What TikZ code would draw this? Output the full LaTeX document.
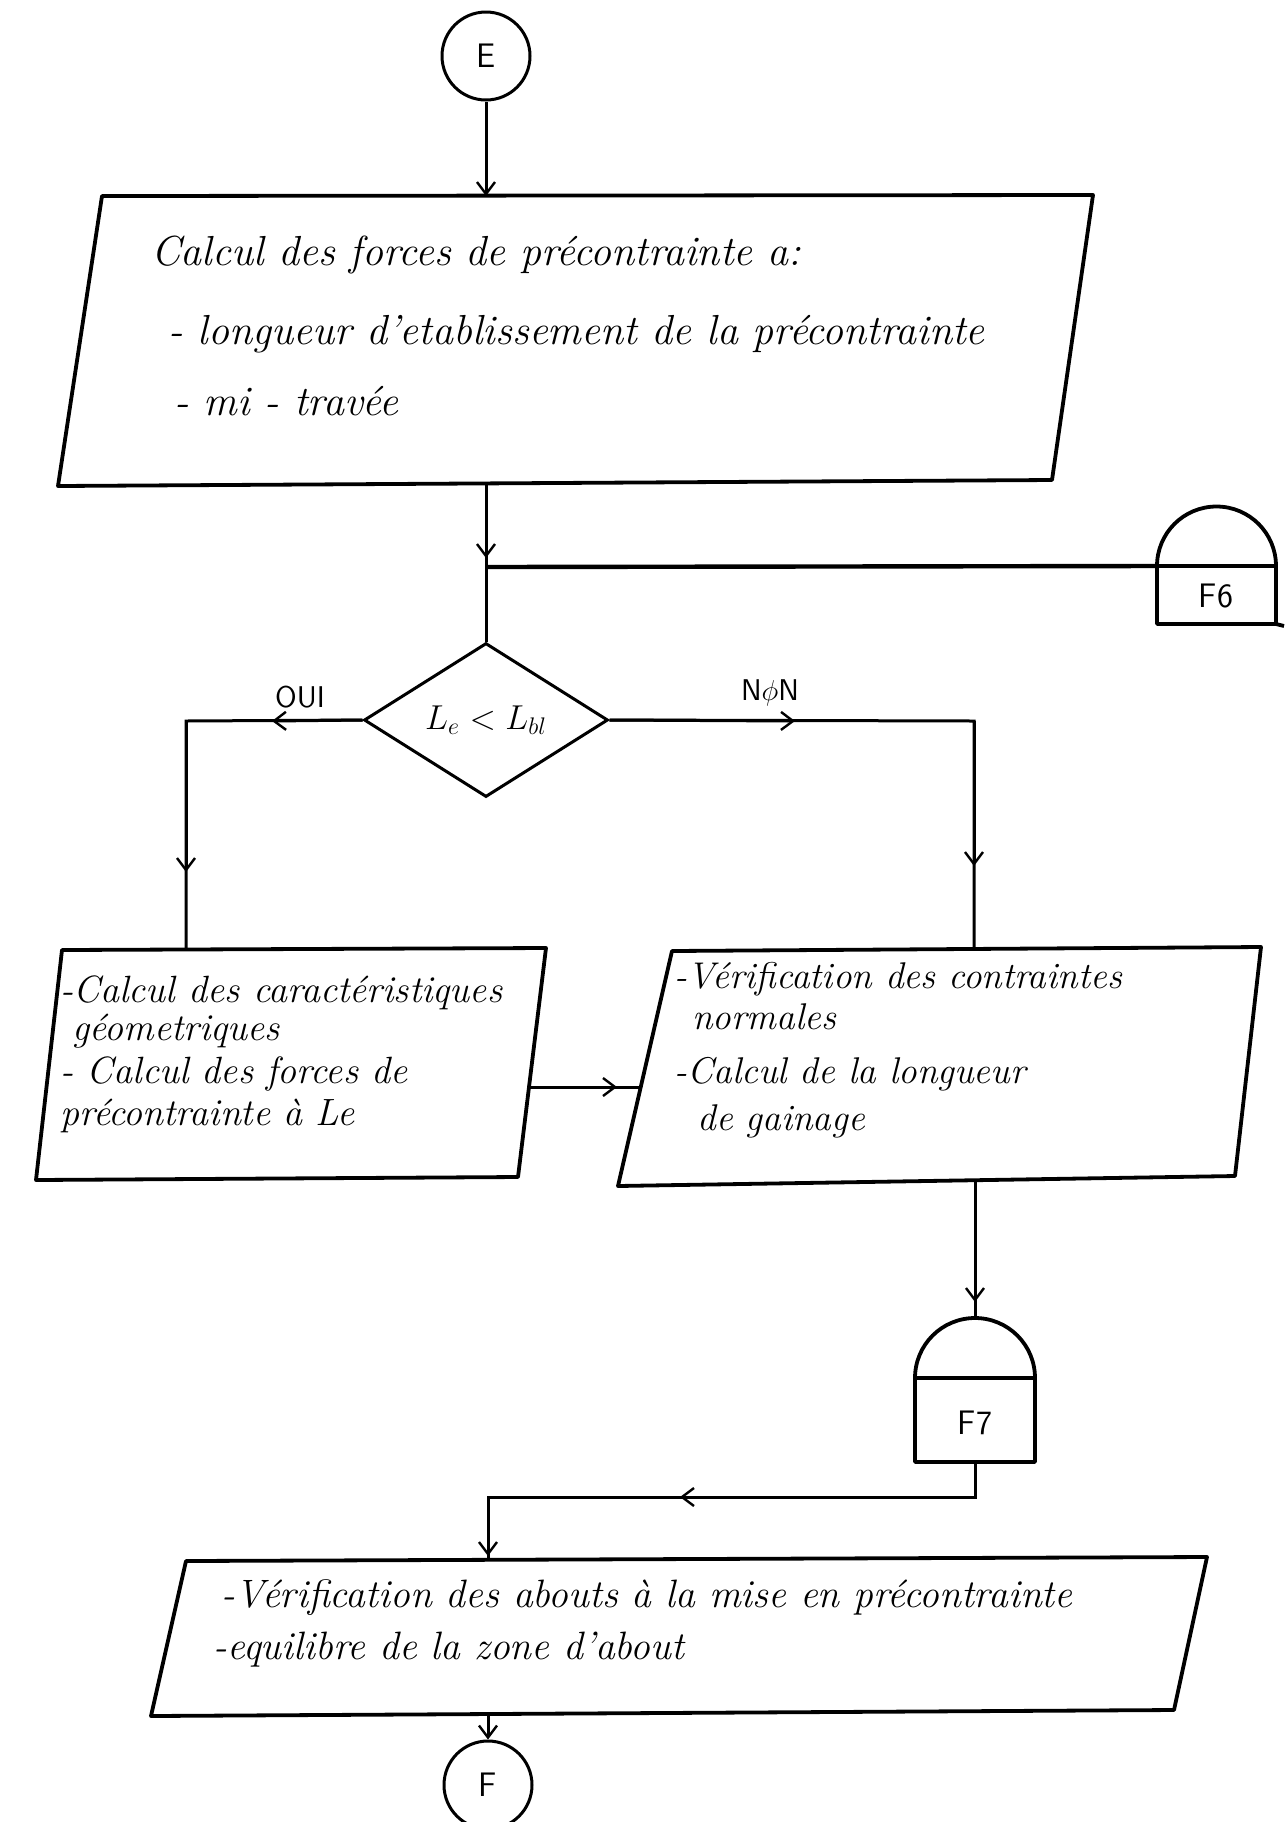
\documentclass[tikz,border=0pt]{standalone}
\usetikzlibrary{arrows.meta,shapes.geometric}
\begin{document}
\begin{tikzpicture}[x=0.5pt,y=-0.5pt,
  line/.style={line width=1.5pt},
  box/.style={line width=1.9pt,line join=round},
  arr/.style={line width=1.5pt,-{Straight Barb[length=6pt,width=9pt,line width=1.2pt]}},
  term/.style={draw,circle,line width=1.5pt,minimum size=44pt,inner sep=0pt,font=\sffamily\fontsize{17}{20}\selectfont},
  hwA/.style={anchor=base west,inner sep=0pt,font=\itshape\fontsize{21}{25}\selectfont},
  hwB/.style={anchor=base west,inner sep=0pt,font=\itshape\fontsize{19}{23}\selectfont},
  hwC/.style={anchor=base west,inner sep=0pt,font=\itshape\fontsize{18.6}{22}\selectfont},
  hwD/.style={anchor=base west,inner sep=0pt,font=\itshape\fontsize{19.8}{24}\selectfont},
  lbl/.style={inner sep=0pt,font=\sffamily\fontsize{15}{18}\selectfont},
  conn/.style={inner sep=0pt,font=\sffamily\fontsize{17}{20}\selectfont},
]
\useasboundingbox (0,0) rectangle (1288,1822);
\fill[white] (0,0) rectangle (1288,1822);

% ---- start terminal
\node[term] (E) at (486,56) {E};

% ---- top box
\coordinate (tb-tl) at (102,196);
\coordinate (tb-tr) at (1093,195);
\coordinate (tb-br) at (1052,480);
\coordinate (tb-bl) at (58,486);
\coordinate (tb-n) at (486,196);
\coordinate (tb-s) at (486,483);
\draw[box] (tb-tl) -- (tb-tr) -- (tb-br) -- (tb-bl) -- cycle;
\node[hwA] (t1) at (151,265) {Calcul des forces de précontrainte a:};
\node[hwA] (t2) at (168,344) {- longueur d'etablissement de la précontrainte};
\node[hwA] (t3) at (174,415) {- mi - travée};

\draw[arr] (E) -- (tb-n);

% ---- junction and F6
\coordinate (J) at (486,567);
\coordinate (ja) at (486,558);
\draw[line] (tb-s) -- (J);
\draw[arr] (tb-s) -- (ja);
\coordinate (f6w) at (1157,566);
\draw[box] (1157,624) -- (1157,566) arc[start angle=180,end angle=0,radius=29.75pt] -- (1276,624) -- cycle;
\draw[box] (1157,566) -- (1276,566);
\draw[box] (1276,624) -- (1284,626);
\node[conn] (F6) at (1216,596) {F6};
\draw[line width=2.2pt] (J) -- (f6w);

% ---- decision
\node[draw,diamond,line width=1.5pt,minimum width=122pt,minimum height=77pt,inner sep=0pt,
      font=\itshape\fontsize{18}{21}\selectfont] (D) at (486,720) {$L_e<L_{bl}$};
\draw[line] (J) -- (D.north);

% left branch
\coordinate (lc) at (186,721);
\coordinate (qa) at (272,721);
\coordinate (lv) at (186,872);
\coordinate (lb-n) at (186,950);
\draw[line] (D.west) -- (lc) -- (lb-n);
\draw[arr] (D.west) -- (qa);
\draw[arr] (lc) -- (lv);
\node[lbl] (oui) at (300,697) {OUI};

% right branch
\coordinate (rc) at (974,721);
\coordinate (na) at (795,721);
\coordinate (rv) at (974,866);
\coordinate (rb-n) at (974,949);
\draw[line] (D.east) -- (rc) -- (rb-n);
\draw[arr] (D.east) -- (na);
\draw[arr] (rc) -- (rv);
\node[lbl] (non) at (770,693) {N$\phi$N};

% ---- left box
\coordinate (lb-tl) at (62,950);
\coordinate (lb-tr) at (546,948);
\coordinate (lb-br) at (518,1177);
\coordinate (lb-bl) at (36,1180);
\draw[box] (lb-tl) -- (lb-tr) -- (lb-br) -- (lb-bl) -- cycle;
\node[hwB] (l1) at (60,1002) {-Calcul des caractéristiques};
\node[hwB] (l2) at (72,1040) {géometriques};
\node[hwB] (l3) at (60,1083) {- Calcul des forces de};
\node[hwB] (l4) at (60,1125) {précontrainte à Le};

% ---- right box
\coordinate (rb-tl) at (672,951);
\coordinate (rb-tr) at (1261,947);
\coordinate (rb-br) at (1235,1176);
\coordinate (rb-bl) at (618,1186);
\draw[box] (rb-tl) -- (rb-tr) -- (rb-br) -- (rb-bl) -- cycle;
\node[hwC] (r1) at (674,988) {-Vérification des contraintes};
\node[hwC] (r2) at (692,1029) {normales};
\node[hwC] (r3) at (674,1083) {-Calcul de la longueur};
\node[hwC] (r4) at (697,1130) {de gainage};

% left box -> right box
\coordinate (lb-e) at (529,1087);
\coordinate (rb-w) at (641,1087);
\coordinate (ma) at (617,1087);
\draw[line] (lb-e) -- (rb-w);
\draw[arr] (lb-e) -- (ma);

% ---- F7
\coordinate (rb-s) at (975,1180);
\coordinate (f7n) at (975,1318);
\coordinate (f7a) at (975,1302);
\draw[line] (rb-s) -- (f7n);
\draw[arr] (rb-s) -- (f7a);
\draw[box] (915,1462) -- (915,1378) arc[start angle=180,end angle=0,radius=30pt] -- (1035,1462) -- cycle;
\draw[box] (915,1378) -- (1035,1378);
\node[conn] (F7) at (975,1423) {F7};

\coordinate (f7s) at (975,1462);
\coordinate (c1) at (975,1497);
\coordinate (c2) at (488,1497);
\coordinate (c2a) at (680,1497);
\coordinate (bb-n) at (488,1561);
\coordinate (bba) at (488,1556);
\draw[line] (f7s) -- (c1) -- (c2) -- (bb-n);
\draw[arr] (c1) -- (c2a);
\draw[arr] (c2) -- (bba);

% ---- bottom box
\coordinate (bb-tl) at (186,1561);
\coordinate (bb-tr) at (1207,1557);
\coordinate (bb-br) at (1174,1710);
\coordinate (bb-bl) at (151,1716);
\draw[box] (bb-tl) -- (bb-tr) -- (bb-br) -- (bb-bl) -- cycle;
\node[hwD] (b1) at (221,1607) {-Vérification des abouts à la mise en précontrainte};
\node[hwD] (b2) at (213,1659) {-equilibre de la zone d'about};

% ---- end terminal
\coordinate (bb-s) at (488,1714);
\node[term] (F) at (488,1785) {F};
\draw[arr] (bb-s) -- (F);
\end{tikzpicture}
\end{document}
